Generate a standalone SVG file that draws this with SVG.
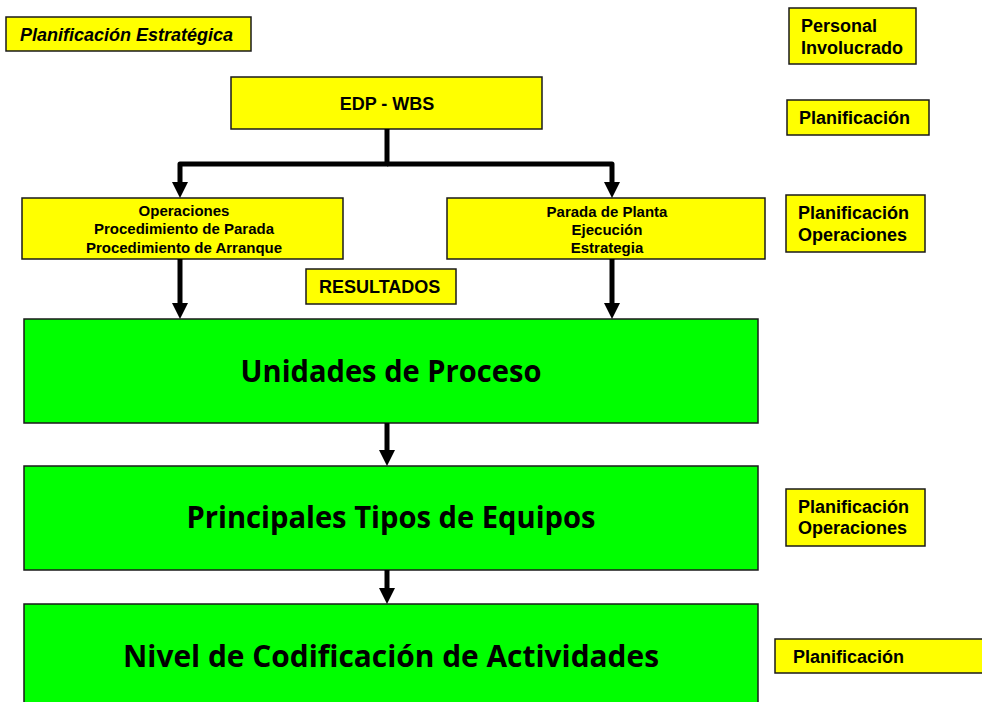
<svg xmlns="http://www.w3.org/2000/svg" width="982" height="702" viewBox="0 0 982 702">
<style>
.y{fill:#FFFF00;stroke:#1a1a1a;stroke-width:1.5}
.g{fill:#00FF00;stroke:#1a1a1a;stroke-width:1.5}
.t{font-family:"Liberation Sans",Arial,sans-serif;font-weight:bold;font-size:18px;fill:#000}
.s{font-family:"Liberation Sans",Arial,sans-serif;font-weight:bold;font-size:15px;fill:#000;text-anchor:middle}
.big{font-family:"Comic Sans MS","Open Sans",sans-serif;font-weight:bold;font-size:30px;fill:#000;text-anchor:middle}
.c{fill:none;stroke:#000;stroke-width:5;stroke-linejoin:round}
</style>
<defs>
<marker id="ah" viewBox="0 0 16 16" markerWidth="16" markerHeight="16" markerUnits="userSpaceOnUse" refX="6" refY="8" orient="auto">
<path d="M0,0 L16,8 L0,16 Z" fill="#000"/>
</marker>
</defs>

<g id="planificacion-estrategica">
<rect class="y" x="6" y="17" width="245" height="34"/>
<text class="t" x="20" y="41" font-style="italic">Planificación Estratégica</text>
</g>

<g id="personal-involucrado">
<rect class="y" x="789" y="8" width="127" height="56"/>
<text class="t" x="801" y="32">Personal</text>
<text class="t" x="801" y="54">Involucrado</text>
</g>

<g id="edp-wbs">
<rect class="y" x="231" y="77" width="311" height="52"/>
<text class="t" x="387" y="110" text-anchor="middle">EDP - WBS</text>
</g>

<g id="planificacion-1">
<rect class="y" x="787" y="100" width="142" height="35"/>
<text class="t" x="799" y="124">Planificación</text>
</g>

<g id="operaciones">
<rect class="y" x="22" y="198" width="321" height="61"/>
<text class="s" x="184" y="216">Operaciones</text>
<text class="s" x="184" y="234">Procedimiento de Parada</text>
<text class="s" x="184" y="253">Procedimiento de Arranque</text>
</g>

<g id="parada-de-planta">
<rect class="y" x="447" y="198" width="318" height="61"/>
<text class="s" x="607" y="217">Parada de Planta</text>
<text class="s" x="607" y="235">Ejecución</text>
<text class="s" x="607" y="253">Estrategia</text>
</g>

<g id="planificacion-operaciones-1">
<rect class="y" x="786" y="195" width="139" height="57"/>
<text class="t" x="798" y="219">Planificación</text>
<text class="t" x="798" y="241">Operaciones</text>
</g>

<g id="resultados">
<rect class="y" x="306" y="269" width="150" height="35"/>
<text class="t" x="319" y="293">RESULTADOS</text>
</g>

<g id="unidades-de-proceso">
<rect class="g" x="24" y="319" width="734" height="104"/>
<text class="big" x="391" y="382" textLength="301" lengthAdjust="spacingAndGlyphs">Unidades de Proceso</text>
</g>

<g id="principales-tipos-de-equipos">
<rect class="g" x="24" y="466" width="734" height="104"/>
<text class="big" x="391" y="528" textLength="409" lengthAdjust="spacingAndGlyphs">Principales Tipos de Equipos</text>
</g>

<g id="planificacion-operaciones-2">
<rect class="y" x="786" y="489" width="139" height="57"/>
<text class="t" x="798" y="513">Planificación</text>
<text class="t" x="798" y="534">Operaciones</text>
</g>

<g id="nivel-de-codificacion">
<rect class="g" x="24" y="604" width="734" height="120"/>
<text class="big" x="391" y="667" textLength="536" lengthAdjust="spacingAndGlyphs">Nivel de Codificación de Actividades</text>
</g>

<g id="planificacion-2">
<rect class="y" x="775" y="639" width="220" height="34"/>
<text class="t" x="793" y="663">Planificación</text>
</g>

<g id="connectors">
<path class="c" d="M387,129 V164 H180 V188" marker-end="url(#ah)"/>
<path class="c" d="M387,164 H612 V188" marker-end="url(#ah)"/>
<path class="c" d="M180,259 V309" marker-end="url(#ah)"/>
<path class="c" d="M612,259 V309" marker-end="url(#ah)"/>
<path class="c" d="M387,423 V456" marker-end="url(#ah)"/>
<path class="c" d="M387,570 V594" marker-end="url(#ah)"/>
</g>
</svg>
